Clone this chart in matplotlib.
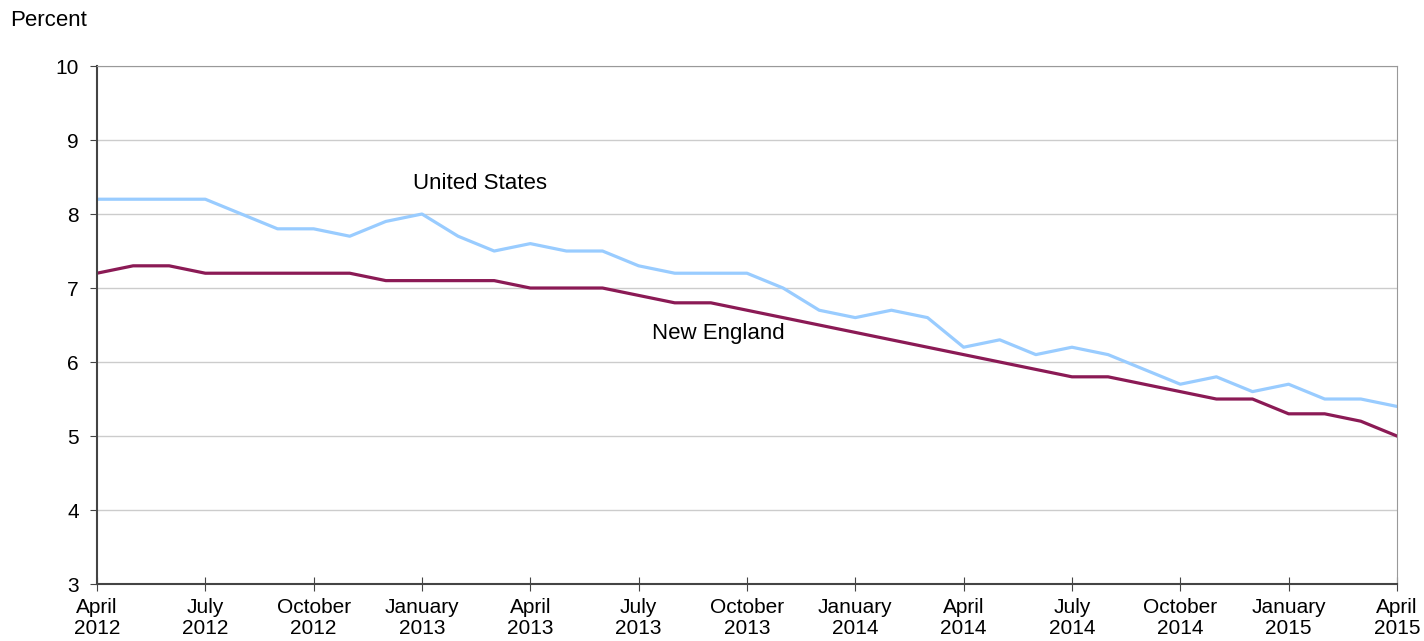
import matplotlib
matplotlib.use('Agg')
import matplotlib.pyplot as plt
import numpy as np

# monthly values, April 2012 - April 2015
us_rate = [8.2, 8.2, 8.2, 8.2, 8.0, 7.8, 7.8, 7.7, 7.9,
           8.0, 7.7, 7.5, 7.6, 7.5, 7.5, 7.3, 7.2, 7.2, 7.2, 7.0, 6.7,
           6.6, 6.7, 6.6, 6.2, 6.3, 6.1, 6.2, 6.1, 5.9, 5.7, 5.8, 5.6,
           5.7, 5.5, 5.5, 5.4]
ne_rate = [7.2, 7.3, 7.3, 7.2, 7.2, 7.2, 7.2, 7.2, 7.1,
           7.1, 7.1, 7.1, 7.0, 7.0, 7.0, 6.9, 6.8, 6.8, 6.7, 6.6, 6.5,
           6.4, 6.3, 6.2, 6.1, 6.0, 5.9, 5.8, 5.8, 5.7, 5.6, 5.5, 5.5,
           5.3, 5.3, 5.2, 5.0]
tick_labels = ['April\n2012', 'July\n2012', 'October\n2012', 'January\n2013',
               'April\n2013', 'July\n2013', 'October\n2013', 'January\n2014',
               'April\n2014', 'July\n2014', 'October\n2014', 'January\n2015',
               'April\n2015']

plt.rcParams['font.family'] = ['Liberation Sans', 'DejaVu Sans']

months = np.arange(len(us_rate))

fig = plt.figure(figsize=(14.24, 6.41), dpi=100)
ax = fig.add_axes([0.0681, 0.0889, 0.9129, 0.8081])

ax.plot(months, us_rate, color='#99ccff', lw=2.3, solid_joinstyle='round')
ax.plot(months, ne_rate, color='#8b1a55', lw=2.3, solid_joinstyle='round')

ax.set_xlim(0, 36)
ax.set_ylim(3, 10)
ax.set_yticks(range(3, 11))
ax.set_xticks(months[::3])
ax.set_xticklabels(tick_labels, fontsize=15, linespacing=1.15)
ax.tick_params(axis='y', labelsize=15, direction='out', length=5,
               color='#444444', pad=8)
ax.tick_params(axis='x', direction='inout', length=10, color='#444444', pad=5)

ax.grid(axis='y', color='#cccccc', lw=1)
ax.set_axisbelow(True)
for side in ['top', 'right']:
    ax.spines[side].set_color('#999999')
for side in ['left', 'bottom']:
    ax.spines[side].set_color('#444444')
    ax.spines[side].set_linewidth(1.5)

ax.text(10.6, 8.27, 'United States', fontsize=16, ha='center', va='bottom')
ax.text(17.2, 6.25, 'New England', fontsize=16, ha='center', va='bottom')
fig.text(0.007, 0.952, 'Percent', fontsize=16, ha='left', va='bottom')

fig.savefig('out.png', dpi=100)
